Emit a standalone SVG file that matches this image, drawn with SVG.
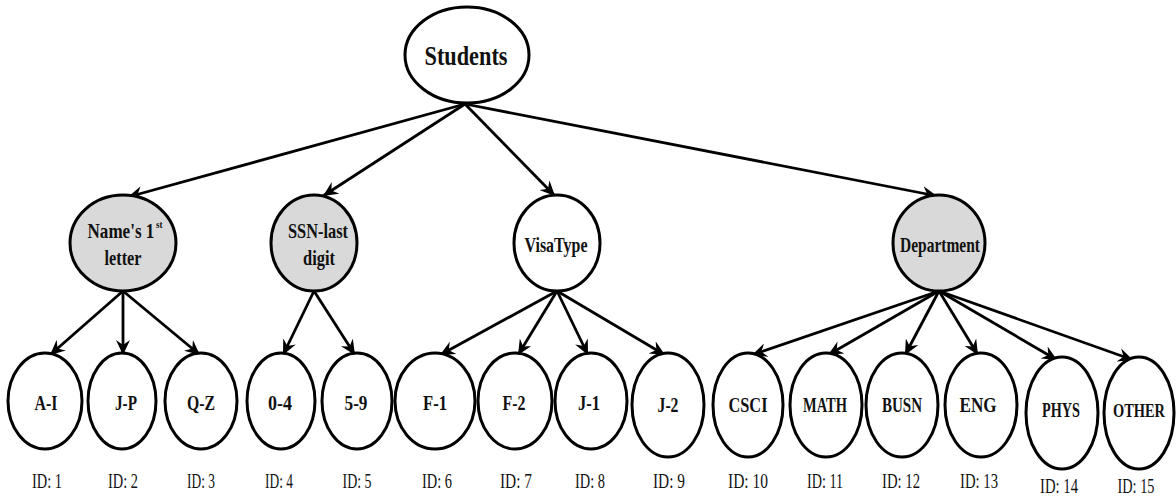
<svg xmlns="http://www.w3.org/2000/svg" width="1176" height="497" viewBox="0 0 1176 497">
<style>
.n{stroke:#000;stroke-width:3;fill:#fff}
.g{fill:#d9d9d9}
.t{font-family:"Liberation Serif","Times New Roman",serif;font-weight:bold;fill:#111;text-anchor:middle}
.id{font-family:"Liberation Serif","Times New Roman",serif;font-size:21px;fill:#111;text-anchor:middle}
.e{stroke:#000;stroke-width:2.8;fill:none;marker-end:url(#ah)}
</style>
<defs>
<marker id="ah" markerUnits="userSpaceOnUse" markerWidth="16" markerHeight="14" viewBox="0 0 16 14" refX="15" refY="7" orient="auto">
<path d="M0,0 L15,7 L0,14 L5,7 z" fill="#000"/>
</marker>
</defs>
<rect width="1176" height="497" fill="#fff"/>
<g id="connectors">
<line class="e" x1="465" y1="104" x2="128" y2="197"/>
<line class="e" x1="465" y1="104" x2="323" y2="196"/>
<line class="e" x1="465" y1="104" x2="555" y2="196"/>
<line class="e" x1="465" y1="104" x2="937" y2="196"/>
<line class="e" x1="123" y1="291" x2="50" y2="355"/>
<line class="e" x1="123" y1="291" x2="123" y2="355"/>
<line class="e" x1="123" y1="291" x2="200" y2="355"/>
<line class="e" x1="314" y1="291" x2="283" y2="355"/>
<line class="e" x1="314" y1="291" x2="355" y2="355"/>
<line class="e" x1="557" y1="291" x2="440" y2="355"/>
<line class="e" x1="557" y1="291" x2="518" y2="355"/>
<line class="e" x1="557" y1="291" x2="588" y2="355"/>
<line class="e" x1="557" y1="291" x2="665" y2="355"/>
<line class="e" x1="939" y1="291" x2="752" y2="355"/>
<line class="e" x1="939" y1="291" x2="828" y2="355"/>
<line class="e" x1="939" y1="291" x2="905" y2="355"/>
<line class="e" x1="939" y1="291" x2="978" y2="355"/>
<line class="e" x1="939" y1="291" x2="1057" y2="360"/>
<line class="e" x1="939" y1="291" x2="1133" y2="360"/>
</g>
<g id="students"><ellipse class="n" cx="467" cy="55" rx="62" ry="48"/><text class="t" x="466" y="65" font-size="28" textLength="83" lengthAdjust="spacingAndGlyphs">Students</text></g>
<g id="name"><ellipse class="n g" cx="123" cy="243" rx="53" ry="48"/><text class="t" x="125" y="238" font-size="21" textLength="75" lengthAdjust="spacingAndGlyphs">Name's 1<tspan font-size="11" dx="2" dy="-10">st</tspan></text><text class="t" x="123" y="265" font-size="21" textLength="37" lengthAdjust="spacingAndGlyphs">letter</text></g>
<g id="ssn"><ellipse class="n g" cx="314" cy="243" rx="43" ry="48"/><text class="t" x="318" y="238" font-size="21" textLength="60" lengthAdjust="spacingAndGlyphs">SSN-last</text><text class="t" x="319" y="265" font-size="21" textLength="32" lengthAdjust="spacingAndGlyphs">digit</text></g>
<g id="visa"><ellipse class="n" cx="557" cy="243" rx="43" ry="48"/><text class="t" x="556" y="252" font-size="21" textLength="63" lengthAdjust="spacingAndGlyphs">VisaType</text></g>
<g id="dept"><ellipse class="n g" cx="939" cy="243" rx="46" ry="48"/><text class="t" x="940" y="252" font-size="21" textLength="80" lengthAdjust="spacingAndGlyphs">Department</text></g>
<g id="ai"><ellipse class="n" cx="45" cy="401" rx="37" ry="48"/><text class="t" x="46" y="410" font-size="22" textLength="23" lengthAdjust="spacingAndGlyphs">A-I</text><text class="id" x="47" y="488" textLength="30" lengthAdjust="spacingAndGlyphs">ID: 1</text></g>
<g id="jp"><ellipse class="n" cx="122" cy="401" rx="34" ry="48"/><text class="t" x="126" y="410" font-size="22" textLength="22" lengthAdjust="spacingAndGlyphs">J-P</text><text class="id" x="123" y="488" textLength="30" lengthAdjust="spacingAndGlyphs">ID: 2</text></g>
<g id="qz"><ellipse class="n" cx="201" cy="401" rx="36" ry="48"/><text class="t" x="201" y="410" font-size="22" textLength="28" lengthAdjust="spacingAndGlyphs">Q-Z</text><text class="id" x="201" y="488" textLength="28" lengthAdjust="spacingAndGlyphs">ID: 3</text></g>
<g id="d04"><ellipse class="n" cx="281" cy="401" rx="34" ry="48"/><text class="t" x="280" y="410" font-size="22" textLength="24" lengthAdjust="spacingAndGlyphs">0-4</text><text class="id" x="279" y="488" textLength="28" lengthAdjust="spacingAndGlyphs">ID: 4</text></g>
<g id="d59"><ellipse class="n" cx="357" cy="401" rx="35" ry="48"/><text class="t" x="356" y="410" font-size="22" textLength="23" lengthAdjust="spacingAndGlyphs">5-9</text><text class="id" x="357" y="488" textLength="29" lengthAdjust="spacingAndGlyphs">ID: 5</text></g>
<g id="f1"><ellipse class="n" cx="435" cy="401" rx="40" ry="48"/><text class="t" x="435" y="410" font-size="22" textLength="24" lengthAdjust="spacingAndGlyphs">F-1</text><text class="id" x="437" y="488" textLength="30" lengthAdjust="spacingAndGlyphs">ID: 6</text></g>
<g id="f2"><ellipse class="n" cx="515" cy="401" rx="37" ry="48"/><text class="t" x="514" y="410" font-size="22" textLength="23" lengthAdjust="spacingAndGlyphs">F-2</text><text class="id" x="516" y="488" textLength="32" lengthAdjust="spacingAndGlyphs">ID: 7</text></g>
<g id="j1"><ellipse class="n" cx="591" cy="401" rx="36" ry="48"/><text class="t" x="589" y="410" font-size="22" textLength="22" lengthAdjust="spacingAndGlyphs">J-1</text><text class="id" x="590" y="488" textLength="30" lengthAdjust="spacingAndGlyphs">ID: 8</text></g>
<g id="j2"><ellipse class="n" cx="668" cy="405" rx="36" ry="52"/><text class="t" x="668" y="412" font-size="22" textLength="21" lengthAdjust="spacingAndGlyphs">J-2</text><text class="id" x="669" y="488" textLength="32" lengthAdjust="spacingAndGlyphs">ID: 9</text></g>
<g id="csci"><ellipse class="n" cx="748" cy="405" rx="35" ry="52"/><text class="t" x="748" y="412" font-size="22" textLength="39" lengthAdjust="spacingAndGlyphs">CSCI</text><text class="id" x="748" y="488" textLength="40" lengthAdjust="spacingAndGlyphs">ID: 10</text></g>
<g id="math"><ellipse class="n" cx="826" cy="405" rx="36" ry="52"/><text class="t" x="825" y="412" font-size="22" textLength="44" lengthAdjust="spacingAndGlyphs">MATH</text><text class="id" x="825" y="488" textLength="36" lengthAdjust="spacingAndGlyphs">ID: 11</text></g>
<g id="busn"><ellipse class="n" cx="902" cy="405" rx="36" ry="52"/><text class="t" x="902" y="412" font-size="22" textLength="40" lengthAdjust="spacingAndGlyphs">BUSN</text><text class="id" x="901" y="488" textLength="38" lengthAdjust="spacingAndGlyphs">ID: 12</text></g>
<g id="eng"><ellipse class="n" cx="981" cy="405" rx="36" ry="52"/><text class="t" x="978" y="412" font-size="22" textLength="37" lengthAdjust="spacingAndGlyphs">ENG</text><text class="id" x="979" y="488" textLength="38" lengthAdjust="spacingAndGlyphs">ID: 13</text></g>
<g id="phys"><ellipse class="n" cx="1062" cy="413" rx="36" ry="56"/><text class="t" x="1061" y="417" font-size="22" textLength="38" lengthAdjust="spacingAndGlyphs">PHYS</text><text class="id" x="1059" y="493" textLength="38" lengthAdjust="spacingAndGlyphs">ID: 14</text></g>
<g id="other"><ellipse class="n" cx="1139" cy="413" rx="35" ry="56"/><text class="t" x="1139" y="417" font-size="18" textLength="52" lengthAdjust="spacingAndGlyphs">OTHER</text><text class="id" x="1136" y="493" textLength="37" lengthAdjust="spacingAndGlyphs">ID: 15</text></g>
</svg>
